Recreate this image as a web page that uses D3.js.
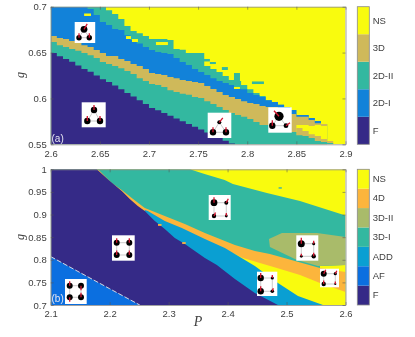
<!DOCTYPE html>
<html>
<head>
<meta charset="utf-8">
<script src="https://cdn.jsdelivr.net/npm/d3@7"></script>
<style>
  html, body { margin: 0; padding: 0; background: #fff; }
  svg { display: block; filter: blur(0.4px); }
  text { font-family: "Liberation Sans", Arial, sans-serif; fill: #404040; }
</style>
</head>
<body>
<svg id="chart" width="415" height="337"></svg>
<script>
// panel (a) : phase boundaries per P column
const pColsA = [2.6,2.60625,2.6125,2.61875,2.625,2.63125,2.6375,2.64375,2.65,2.65625,2.6625,2.66875,2.675,2.68125,2.6875,2.69375,
  2.7,2.70625,2.7125,2.71875,2.725,2.73125,2.7375,2.74375,2.75,2.75625,2.7625,2.76875,2.775,2.78125,2.7875,2.79375,
  2.8,2.80625,2.8125,2.81875,2.825,2.83125,2.8375,2.84375,2.85,2.85625,2.8625,2.86875,2.875,2.88125,2.8875,2.89375,2.9];
const top2DIIupper = [.7,.7,.7,.7,.7,.7,.7,.7,.7,.696,.692,.6866,.679,.6735,.671,.668,
  .6648,.6648,.6648,.6637,.654,.653,.6495,.6495,.6495,.6353,.632,.6288,.6245,.62,.619,.6146,
  .61,.606,.6027,.598,.596,.593,.5907,.5875,.582,.582,.5786,.5753,.572,.55,.55,.55];
const top2DI = [.7,.7,.7,.7,.7,.7,.6975,.691,.6833,.68,.6757,.6746,.669,.6637,.66,.656,
  .6528,.6506,.6495,.6484,.644,.6397,.6364,.632,.6288,.6255,.622,.619,.6168,.6146,.6125,.61,
  .606,.6037,.6016,.598,.596,.593,.5907,.5875,.582,.582,.5786,.5753,.572,.55,.55,.55];
const top3D = [.668,.6659,.6648,.6626,.6604,.658,.656,.6528,.6495,.6463,.6463,.643,.6408,.6375,.6353,.632,
  .6277,.6266,.6255,.6233,.622,.62,.619,.618,.6168,.6135,.6103,.607,.6037,.6016,.5994,.597,
  .595,.594,.5917,.5906,.5906,.5875,.5853,.583,.58,.58,.5765,.573,.572,.55,.55,.55];
const topPocketNS = [null,null,null,null,null,null,null,null,null,null,null,null,null,null,null,null,
  null,null,null,null,null,null,null,null,null,null,null,null,null,null,null,null,
  null,null,null,null,null,null,null,null,.571,.571,.57,.571,.57,.55,null,null];
const topStrip3D = [null,null,null,null,null,null,null,null,null,null,null,null,null,null,null,null,
  null,null,null,null,null,null,null,null,null,null,null,null,null,null,null,null,
  null,null,null,null,null,null,null,null,.5678,.5645,.561,.559,.5558,.5536,.55,.55];
const top2DIIlower = [.6615,.658,.656,.654,.652,.6495,.647,.644,.6397,.6375,.6353,.633,.63,.6266,.622,.619,
  .6157,.6146,.6125,.609,.607,.605,.604,.6016,.6004,.597,.594,.5906,.5875,.584,.582,.58,
  .5776,.5743,.571,.571,.571,.5688,.5667,.5634,.56,.559,.5568,.5536,.5525,.5515,.55,.55];
const topF = [.6495,.646,.643,.64,.636,.632,.629,.625,.621,.618,.614,.61,.606,.602,.598,.594,
  .5895,.587,.584,.581,.578,.575,.572,.569,.566,.563,.56,.557,.554,.551,.55,.55,
  .55,.55,.55,.55,.55,.55,.55,.55,.55,.55,.55,.55,.55,.55,.55,.55];
// isolated cells [P0, P1, g0, g1, phase]
const specksA = [
  [2.634,2.641,.6899,.6926,"NS"],[2.6766,2.6817,.6648,.668,"NS"],[2.6827,2.6888,.6615,.6648,"NS"],
  [2.7071,2.7193,.6582,.6615,"NS"],[2.7559,2.762,.6403,.643,"2D-II"],[2.762,2.7681,.6375,.6397,"2D-II"],
  [2.7742,2.7803,.631,.6342,"2D-II"],[2.8048,2.817,.6157,.6185,"2D-II"],[2.7865,2.7926,.6125,.6277,"2D-II"],
  [2.7865,2.7926,.6103,.6125,"NS"],[2.7926,2.7987,.6103,.6125,"2D-II"]
];
const phasesA = ["F","2D-I","2D-II","3D","NS"];

// panel (b) : phase boundaries as [P, g]
const top3DI = [[2.1,1],[2.336,1],[2.361,.9896],[2.395,.9763],[2.409,.9675],[2.4667,.9476],[2.5228,.9299],[2.6,.8979]];
const shape3DII = [[2.4718,.8282],[2.4701,.8459],[2.4922,.8592],[2.5516,.8592],[2.6,.8503],[2.6,.7884],[2.5533,.7862],[2.5177,.7995]];
const topStripNS = [[2.5567,.7862],[2.6,.7884]];
const top4D = [[2.1798,1],[2.1832,.9962],[2.2036,.9697],[2.2205,.9542],[2.2375,.9365],[2.2596,.9144],[2.2935,.8967],[2.3275,.8791],
  [2.3615,.8592],[2.3954,.8415],[2.4124,.8326],[2.4463,.8194],[2.4718,.8127],[2.5143,.7973],[2.5567,.7818],[2.6,.773]];
const topWedgeNS = [[2.409,.815],[2.426,.8039],[2.4837,.7818],[2.5228,.7663],[2.5567,.7486],[2.6,.7287]];
const topADD = [[2.2596,.91],[2.2647,.9078],[2.2935,.8857],[2.3224,.8702],[2.3615,.8459],[2.3954,.826],[2.4124,.8127],
  [2.4463,.7862],[2.4854,.7486],[2.5194,.7199],[2.5618,.7]];
const topFb = [[2.1,1],[2.178,1],[2.2002,.9741],[2.2205,.952],[2.2341,.9343],[2.2477,.9189],[2.2596,.9078],[2.2766,.8857],[2.2935,.868],
  [2.3105,.8481],[2.3275,.8348],[2.3445,.8194],[2.3615,.8039],[2.3818,.7884],[2.4124,.7575],[2.4463,.7265],[2.4854,.7]];
const topAF = [[2.1,.807],[2.15,.7715],[2.2,.736],[2.2511,.7]];
const specksB = [[2.4865,2.492,.9575,.96,"ADD"],[2.282,2.288,.875,.879,"4D"],[2.323,2.329,.835,.839,"4D"]];
const phasesB = ["F","AF","ADD","3D-I","3D-II","4D","NS"];

const colors = {"F":"#352a87","2D-I":"#1282d9","2D-II":"#33b8a0","3D":"#cfb95a","NS":"#f9fb0e",
  "AF":"#0b6fe0","ADD":"#0a9fd2","3D-I":"#33b8a0","3D-II":"#a9bb6a","4D":"#fcb53c"};

const tickA = {x:[2.6,2.65,2.7,2.75,2.8,2.85,2.9], y:[.55,.6,.65,.7]};
const tickB = {x:[2.1,2.2,2.3,2.4,2.5,2.6], y:[.7,.75,.8,.85,.9,.95,1]};

const svg = d3.select("#chart");
const boxA = {left:50.7, right:345.5, top:6.7, bottom:144.3};
const boxB = {left:50.7, right:345.5, top:169.3, bottom:305};
const barX = [357.3, 369.3];
const axisColor = "#8a8a8a";
const labelSize = 9.5;

function makePanel(box, xDomain, yDomain, name) {
  const x = d3.scaleLinear().domain(xDomain).range([box.left, box.right]);
  const y = d3.scaleLinear().domain(yDomain).range([box.bottom, box.top]);
  svg.append("clipPath").attr("id", "clip" + name).append("rect")
    .attr("x", box.left).attr("y", box.top)
    .attr("width", box.right - box.left).attr("height", box.bottom - box.top);
  const g = svg.append("g").attr("clip-path", "url(#clip" + name + ")");
  g.append("rect").attr("x", box.left).attr("y", box.top)
    .attr("width", box.right - box.left).attr("height", box.bottom - box.top)
    .attr("fill", colors.NS);
  return {x, y, g};
}

function drawAxes(p, box, ticks, fmtX, fmtY) {
  const ax = (gen, tx, ty, labels) => {
    const a = svg.append("g").attr("transform", "translate(" + tx + "," + ty + ")").call(gen);
    a.select(".domain").attr("stroke", axisColor).attr("stroke-width", 0.8);
    a.selectAll(".tick line").attr("stroke", "#555").attr("stroke-opacity", 0.55);
    a.selectAll("text").attr("font-size", labelSize).attr("fill", "#404040");
    if (!labels) a.selectAll("text").remove();
    return a;
  };
  ax(d3.axisBottom(p.x).tickValues(ticks.x).tickFormat(fmtX).tickSizeInner(-3).tickSizeOuter(0).tickPadding(5.6), 0, box.bottom, true);
  ax(d3.axisTop(p.x).tickValues(ticks.x).tickSizeInner(-3).tickSizeOuter(0), 0, box.top, false);
  ax(d3.axisLeft(p.y).tickValues(ticks.y).tickFormat(fmtY).tickSizeInner(-3).tickSizeOuter(0).tickPadding(4), box.left, 0, true);
  ax(d3.axisRight(p.y).tickValues(ticks.y).tickSizeInner(-3).tickSizeOuter(0), box.right, 0, false);
}

function colorbar(box, phases) {
  const band = d3.scaleBand().domain(phases.slice().reverse()).range([box.top, box.bottom]);
  svg.append("g").selectAll("rect").data(phases).enter().append("rect")
    .attr("x", barX[0]).attr("y", d => band(d))
    .attr("width", barX[1] - barX[0]).attr("height", band.bandwidth())
    .attr("fill", d => colors[d]);
  const a = svg.append("g").attr("transform", "translate(" + barX[1] + ",0)")
    .call(d3.axisRight(band).tickSize(0).tickPadding(3.4));
  a.select(".domain").remove();
  a.selectAll("text").attr("font-size", labelSize).attr("fill", "#404040");
  svg.append("rect").attr("x", barX[0]).attr("y", box.top)
    .attr("width", barX[1] - barX[0]).attr("height", box.bottom - box.top)
    .attr("fill", "none").attr("stroke", axisColor).attr("stroke-width", 0.8);
}

// little spin diagrams, placed by hand in px
function inset(bx, by, bw, bh, spins, bonds) {
  const g = svg.append("g");
  g.append("rect").attr("x", bx).attr("y", by).attr("width", bw).attr("height", bh).attr("fill", "#fff");
  bonds.forEach(b => {
    g.append("line").attr("x1", spins[b[0]][0]).attr("y1", spins[b[0]][1])
      .attr("x2", spins[b[1]][0]).attr("y2", spins[b[1]][1])
      .attr("stroke", "#b5b5b5").attr("stroke-width", 0.7);
  });
  spins.forEach(s => {
    g.append("circle").attr("cx", s[0]).attr("cy", s[1]).attr("r", s[2]).attr("fill", "#000");
    g.append("line").attr("x1", s[0]).attr("y1", s[1]).attr("x2", s[0] + s[3]).attr("y2", s[1] + s[4])
      .attr("stroke", "#d5142e").attr("stroke-width", 1.3);
  });
}

// ---- panel a
const pa = makePanel(boxA, [2.6, 2.9], [.55, .7], "A");
const layersA = [
  ["2D-II", top2DIIupper], ["2D-I", top2DI], ["3D", top3D], ["NS", topPocketNS],
  ["3D", topStrip3D], ["2D-II", top2DIIlower], ["F", topF]
];
const areaA = d3.area()
  .defined(d => d.g != null)
  .x(d => pa.x(d.p)).y0(pa.y(.55)).y1(d => pa.y(d.g))
  .curve(d3.curveStepAfter);
layersA.forEach(l => {
  const rows = pColsA.map((p, i) => ({p: p, g: l[1][Math.min(i, l[1].length - 1)]}));
  pa.g.append("path").attr("d", areaA(rows)).attr("fill", colors[l[0]]);
});
pa.g.selectAll(".speck").data(specksA).enter().append("rect").attr("class", "speck")
  .attr("x", d => pa.x(d[0])).attr("width", d => pa.x(d[1]) - pa.x(d[0]))
  .attr("y", d => pa.y(d[3])).attr("height", d => pa.y(d[2]) - pa.y(d[3]))
  .attr("fill", d => colors[d[4]]);

// ---- panel b
const pb = makePanel(boxB, [2.1, 2.6], [.7, 1], "B");
const areaB = d3.area().x(d => pb.x(d[0])).y0(pb.y(.7)).y1(d => pb.y(d[1]));
pb.g.append("path").attr("d", areaB(top3DI)).attr("fill", colors["3D-I"]);
pb.g.append("path").attr("d", areaB(topStripNS)).attr("fill", colors.NS);
pb.g.append("path").attr("d", d3.line().x(d => pb.x(d[0])).y(d => pb.y(d[1]))(shape3DII) + "Z").attr("fill", colors["3D-II"]);
pb.g.append("path").attr("d", areaB(top4D)).attr("fill", colors["4D"]);
pb.g.append("path").attr("d", areaB(topWedgeNS)).attr("fill", colors.NS);
pb.g.append("path").attr("d", areaB(topADD)).attr("fill", colors.ADD);
pb.g.append("path").attr("d", areaB(topFb)).attr("fill", colors.F);
pb.g.append("path").attr("d", areaB(topAF)).attr("fill", colors.AF);
pb.g.append("path").attr("d", d3.line().x(d => pb.x(d[0])).y(d => pb.y(d[1]))(topAF))
  .attr("fill", "none").attr("stroke", "#e8e8e8").attr("stroke-width", 0.9).attr("stroke-dasharray", "5,2");
pb.g.selectAll(".speck").data(specksB).enter().append("rect").attr("class", "speck")
  .attr("x", d => pb.x(d[0])).attr("width", d => pb.x(d[1]) - pb.x(d[0]))
  .attr("y", d => pb.y(d[3])).attr("height", d => pb.y(d[2]) - pb.y(d[3]))
  .attr("fill", d => colors[d[4]]);

drawAxes(pa, boxA, tickA, d3.format(".4~f"), d3.format(".4~f"));
drawAxes(pb, boxB, tickB, d3.format(".4~f"), d3.format(".4~f"));
colorbar(boxA, phasesA);
colorbar(boxB, phasesB);

const tri = [[0,1],[0,2],[1,2]];
const sq = [[0,1],[1,3],[3,2],[2,0]];
inset(74.7, 22, 20.5, 21, [[84,29.3,3.4,3.2,-5.5],[79,37.7,2.7,0,-4.5],[89.3,37.7,2.7,0,-4.5]], tri);
inset(81.7,102.3, 24, 25, [[94,110,3.2,0,-5],[87.3,121,3.2,0,-5],[100,121,3.2,0,-5]], tri);
inset(207.7,112.7, 23.6, 25.3, [[219.3,122.3,2,3.5,-4.5],[213,132.3,3.2,0,-5],[226,132.3,3.2,0,-5]], tri);
inset(268.3,107.3, 23.4, 25.4, [[279,116.3,4.6,-5,-5.5],[272.3,125.7,3.2,0,-5.5],[286,125.7,2.4,4,-3]], tri);
inset(65,279, 21.7, 25, [[69.7,285.7,3,0,-4.5],[81,285.7,3,0,4.5],[69.7,297.3,3,0,4.5],[81,297.3,3,0,-4.5]], sq);
inset(112,235.3, 22.7, 25.4, [[116.7,242.7,3,0,-4.5],[129.3,242.7,3,0,-4.5],[116.7,255,3,0,-4.5],[129.3,255,3,0,-4.5]], sq);
inset(208.7,195, 22, 25, [[214,202.7,3.4,0,-5.5],[226.3,202.7,2,2,-4],[214,216,2.2,1.5,-3.5],[226.3,216,1.4,0,-3]], sq);
inset(296.3,235.3, 22, 25.4, [[301.3,243.7,3.5,0,-6],[313.7,243.7,1.5,0,-3],[301.3,256.3,1.4,0,-2.5],[313.7,256.3,2.2,0,-3.5]], sq);
inset(257,271.7, 20.3, 24.3, [[260.7,278,3.2,0,-5],[272.3,278,1.6,0,-3],[260.7,291.3,3.2,0,-5],[272.3,291.3,1.8,1,-3]], sq);
inset(320,268.7, 19, 18.6, [[323.7,273.7,3,2,-4],[335.3,273.7,1.6,1.5,-3],[323.7,284,2.2,0,-3.5],[335.3,284,1.1,0,-2.5]], sq);

// panel tags and axis names
svg.append("text").attr("x", 51.5).attr("y", 141.5).attr("font-size", 10).style("fill", "#e4e4f0").text("(a)");
svg.append("text").attr("x", 51.5).attr("y", 301.5).attr("font-size", 10).style("fill", "#e4e4f0").text("(b)");
const serifLabel = (x, y, rot, t, size) => svg.append("text")
  .attr("transform", "translate(" + x + "," + y + ") rotate(" + rot + ")")
  .attr("text-anchor", "middle").attr("font-size", size)
  .style("font-family", "'Liberation Serif', serif").style("font-style", "italic").text(t);
serifLabel(24, 75, -90, "g", 12);
serifLabel(24, 237, -90, "g", 12);
serifLabel(198, 326, 0, "P", 14);
</script>
</body>
</html>
